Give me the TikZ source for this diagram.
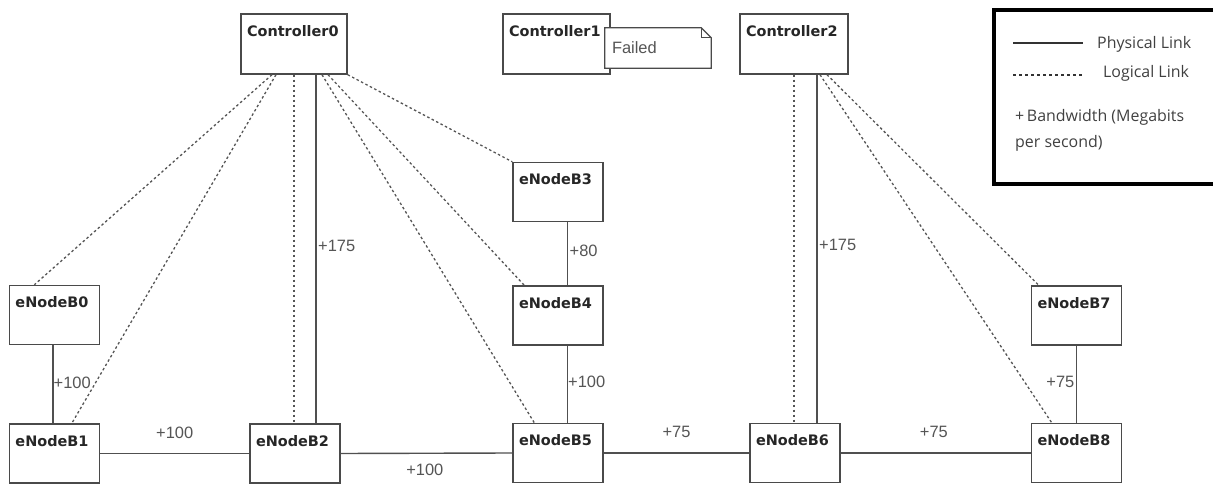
\documentclass[tikz,border=0pt]{standalone}
\usepackage{fontspec}
\newfontfamily\boxfont{DejaVu Sans}
\newfontfamily\lblfont{Liberation Sans}
\newfontfamily\legfont{Open Sans}
\usetikzlibrary{calc}
\definecolor{edgec}{HTML}{4A4A4A}
\definecolor{linkc}{HTML}{505050}
\definecolor{dashc}{HTML}{555555}
\definecolor{lblc}{HTML}{555555}
\tikzset{
  box/.style={draw=edgec, line width=1.4bp, fill=white, inner sep=0pt,
    minimum width=90bp, minimum height=59bp},
  boxlbl/.style={anchor=north west, inner sep=0pt, xshift=6.5bp, yshift=-12bp,
    font=\boxfont\bfseries\fontsize{14.5}{16}\selectfont, text=black!85},
  ubox/.style={box, label={[boxlbl]north west:#1}},
  phys/.style={draw=linkc, line width=1.4bp},
  logi/.style={draw=dashc, line width=1.3bp, dash pattern=on 2.5bp off 2.5bp},
  bw/.style={font=\lblfont\fontsize{16.5}{18}\selectfont, text=lblc, inner sep=1.5bp},
  leg/.style={font=\legfont\fontsize{16}{19}\selectfont, text=black!75, inner sep=0pt}
}
\begin{document}
\begin{tikzpicture}[x=1bp,y=-1bp]
\useasboundingbox (0,0) rectangle (1213,485);
% controllers
\node[ubox=Controller0, minimum width=106bp, minimum height=60bp] (c0) at (294,44) {};
\node[ubox=Controller1, minimum width=107bp, minimum height=60bp] (c1) at (556.5,44) {};
\node[ubox=Controller2, minimum width=108bp, minimum height=60bp] (c2) at (794,44) {};
% note
\node[minimum width=106bp, minimum height=40bp, inner sep=0pt] (note) at (658,48) {};
\filldraw[draw=edgec, fill=white, line width=1.2bp]
  (note.north west) -- ([xshift=-10bp]note.north east) -- ([yshift=-10bp]note.north east)
  -- (note.south east) -- (note.south west) -- cycle;
\draw[draw=edgec, line width=1.1bp] ([xshift=-10bp]note.north east) -- ([xshift=-10bp,yshift=-10bp]note.north east) -- ([yshift=-10bp]note.north east);
\node[bw, anchor=west, inner sep=0pt] (failed) at ([xshift=7bp]note.west) {Failed};
% eNodeBs
\node[ubox=eNodeB0] (b0) at (54.5,315) {};
\node[ubox=eNodeB1] (b1) at (54.5,453.5) {};
\node[ubox=eNodeB2] (b2) at (295,453.5) {};
\node[ubox=eNodeB3] (b3) at (558,192) {};
\node[ubox=eNodeB4] (b4) at (558,315.5) {};
\node[ubox=eNodeB5] (b5) at (558,453) {};
\node[ubox=eNodeB6] (b6) at (795,453) {};
\node[ubox=eNodeB7] (b7) at (1076.5,315.5) {};
\node[ubox=eNodeB8] (b8) at (1076.5,453) {};
% logical links
\draw[logi] ([xshift=-22bp]c0.south) -- ([xshift=25.5bp]b0.north west);
\draw[logi] ([xshift=-18bp]c0.south) -- ([xshift=63bp]b1.north west);
\draw[logi] (c0.south) -- (b2.north -| c0.south);
\draw[logi] ([xshift=28bp]c0.south) -- ([xshift=22bp]b5.north west);
\draw[logi] ([xshift=34bp]c0.south) -- ([xshift=12bp]b4.north west);
\draw[logi] (c0.south east) -- (b3.north west);
\draw[logi] (c2.south) -- (b6.north -| c2.south);
\draw[logi] ([xshift=26bp]c2.south) -- ([xshift=21bp]b8.north west);
\draw[logi] ([xshift=33bp]c2.south) -- ([xshift=8bp]b7.north west);
% physical links
\draw[phys] ([xshift=22bp]c0.south) -- ([xshift=22bp]c0.south |- b2.north)
  node[bw, pos=0.49, anchor=west] (l1) {+175};
\draw[phys] ([xshift=23bp]c2.south) -- ([xshift=23bp]c2.south |- b6.north)
  node[bw, pos=0.49, anchor=west] (l2) {+175};
\draw[phys] ([xshift=-1.5bp]b0.south) -- ([xshift=-1.5bp]b1.north)
  node[bw, pos=0.48, anchor=west, inner sep=0pt] (l3) {+100};
\draw[phys] ([xshift=9.5bp]b3.south) -- ([xshift=9.5bp]b4.north)
  node[bw, pos=0.45, anchor=west] (l4) {+80};
\draw[phys] ([xshift=9.5bp]b4.south) -- ([xshift=9.5bp]b5.north)
  node[bw, pos=0.47, anchor=west, inner sep=0pt] (l5) {+100};
\draw[phys] (b7.south) -- (b8.north)
  node[bw, pos=0.47, anchor=east] (l6) {+75};
\draw[phys] (b1.east) -- (b2.west)
  node[bw, pos=0.5, anchor=south, yshift=13bp] (l7) {+100};
\draw[phys] (b2.east) -- (b5.west)
  node[bw, pos=0.49, anchor=north, yshift=-9bp] (l8) {+100};
\draw[phys] (b5.east) -- (b6.west)
  node[bw, pos=0.5, anchor=south, yshift=13bp] (l9) {+75};
\draw[phys] (b6.east) -- (b8.west)
  node[bw, pos=0.49, anchor=south, yshift=13bp] (l10) {+75};
% legend
\node[draw=black, line width=4bp, minimum width=230bp, minimum height=174bp, anchor=north west, inner sep=0pt] (legend) at (992,8) {};
\coordinate (ps) at (1013,43);
\coordinate (pe) at (1083,43);
\draw[draw=black!80, line width=1.2bp] (ps) -- (pe);
\node[leg, anchor=west] (lp) at (1097,44) {Physical Link};
\coordinate (ls) at (1013,75);
\coordinate (le) at (1083,75);
\draw[draw=black!80, line width=1.1bp, dash pattern=on 3bp off 3bp] (ls) -- (le);
\node[leg, anchor=west] (ll) at (1103,73) {Logical Link};
\node[leg, anchor=west] (lb1) at (1015,117) {+\,Bandwidth (Megabits};
\node[leg, anchor=west] (lb2) at (1015,143) {per second)};
\end{tikzpicture}
\end{document}
